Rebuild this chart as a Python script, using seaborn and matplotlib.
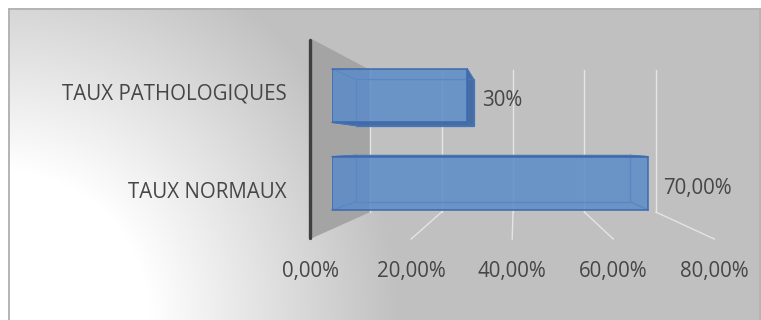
import numpy as np
import matplotlib
matplotlib.use("Agg")
import matplotlib.pyplot as plt
import seaborn as sns
from matplotlib.patches import Polygon

# ---- data ----
categories = ["TAUX PATHOLOGIQUES", "TAUX NORMAUX"]
values = [30, 70]
label_decimals = [0, 2]
x_ticks = [0, 20, 40, 60, 80]

# ---- style ----
plt.rcParams["font.family"] = ["Open Sans", "DejaVu Sans"]
TEXT = "#464646"
FS = 14.8
BAR = "#5b8bc8"
EDGE = "#3d6aae"
SIDE = "#3e68a3"
INNER = "#4676b6"
GRID = "#e4e4e4"
WALL = "#a4a4a4"
AXLINE = "#3f3f3f"

W, H = 761, 320
fig = plt.figure(figsize=(W / 100, H / 100), dpi=100, facecolor="white")

# background layer in top-down pixel coordinates
ax_bg = fig.add_axes([0, 0, 1, 1], zorder=0)
ax_bg.set_xlim(0, W)
ax_bg.set_ylim(H, 0)
ax_bg.axis("off")

# chart area: radial fill from the lower-left corner, white to grey
cx0, cy0 = 8, 8
xs = np.arange(cx0, W) + 0.5
ys = np.arange(cy0, H) + 0.5
X, Y = np.meshgrid(xs, ys)
r = np.hypot(X - 0, Y - 320)
t = np.clip((r - 150) / 250, 0, 1)
g = (255 - t * 63) / 255
ax_bg.imshow(np.dstack([g, g, g]), extent=(cx0, W, H, cy0),
             interpolation="bilinear", aspect="auto", zorder=0)
ax_bg.plot([8.5, 8.5, 759.5, 759.5], [H, 8.5, 8.5, H],
           color="#b4b4b4", lw=1.4, zorder=1, solid_joinstyle="miter")

# bar plane
ax = fig.add_axes([332 / W, (H - 229.2) / H, 361 / W, 179.4 / H], zorder=2)
ax.patch.set_alpha(0)
sns.barplot(x=values, y=categories, orient="h", color=BAR, saturation=1,
            width=0.61, alpha=0.85, edgecolor=EDGE, linewidth=1.3, ax=ax)
ax.set_xlim(0, 80)
ax.set_ylim(1.525, -0.525)
ax.axis("off")

# perspective helpers
VP = np.array([515.0, 147.0])
F_FRONT, F_WALL, F_BAR_BACK = 1.12, 0.792, 0.869


def data_px(x, y):
    dx, dy = ax.transData.transform((x, y))
    return np.array([dx, H - dy])


def axes_px(u, v):
    dx, dy = ax.transAxes.transform((u, v))
    return np.array([dx, H - dy])


def proj(p, f):
    return VP + (np.asarray(p, float) - VP) * f


tl, bl = axes_px(0, 1), axes_px(0, 0)

# side wall
wall = [proj(tl, F_FRONT), proj(tl, F_WALL), proj(bl, F_WALL), proj(bl, F_FRONT)]
ax_bg.add_patch(Polygon(wall, closed=True, facecolor=WALL, edgecolor="none", zorder=2))

# gridlines on back wall and floor, with tick labels on the floor edge
for tv in x_ticks:
    xp = data_px(tv, 0)[0]
    top = np.array([xp, tl[1]])
    bot = np.array([xp, bl[1]])
    bt, bb, fb = proj(top, F_WALL), proj(bot, F_WALL), proj(bot, F_FRONT)
    ax_bg.plot([bt[0], bb[0]], [bt[1], bb[1]], color=GRID, lw=1.0, zorder=3)
    if tv > 0:
        ax_bg.plot([bb[0], fb[0]], [bb[1], fb[1]], color=GRID, lw=1.0, zorder=3)
    ax_bg.text(fb[0], fb[1] + 38, f"{tv:.2f}%".replace(".", ","),
               ha="center", va="baseline", fontsize=FS, color=TEXT, zorder=6)

# front edge of the category axis
ft, fbm = proj(tl, F_FRONT), proj(bl, F_FRONT)
ax_bg.plot([ft[0], fbm[0]], [ft[1] + 2, fbm[1] - 1], color=AXLINE, lw=2.4,
           solid_capstyle="round", zorder=4)

# category labels on the front plane
for i, cat in enumerate(categories):
    p = proj([tl[0], data_px(0, i)[1]], F_FRONT)
    ax_bg.text(p[0] - 23, p[1] + 10.3, cat, ha="right", va="baseline",
               fontsize=FS, color=TEXT, zorder=6)

# depth of each bar: outer side faces and hidden edges seen through the front
for patch in ax.patches:
    bb = patch.get_bbox()
    # corners clockwise from top-left (top-down pixels)
    xl, xr = data_px(bb.x0, 0)[0], data_px(bb.x1, 0)[0]
    yt = min(data_px(0, bb.y0)[1], data_px(0, bb.y1)[1])
    yb = max(data_px(0, bb.y0)[1], data_px(0, bb.y1)[1])
    front = [np.array(p) for p in [(xl, yt), (xr, yt), (xr, yb), (xl, yb)]]
    back = [proj(c, F_BAR_BACK) for c in front]
    # a face shows beside the front only when its back edge lies outside it
    visible = [back[0][1] < yt, back[1][0] > xr, back[2][1] > yb, back[3][0] < xl]
    for k in range(4):
        if not visible[k]:
            continue
        n = (k + 1) % 4
        ax_bg.add_patch(Polygon([front[k], front[n], back[n], back[k]], closed=True,
                                facecolor=SIDE, edgecolor=EDGE, lw=0.6,
                                alpha=0.95, zorder=5))
    ax_bg.add_patch(Polygon(back, closed=True, facecolor="none", edgecolor=INNER,
                            lw=0.9, zorder=5.5))
    for c, b in zip(front, back):
        ax_bg.plot([c[0], b[0]], [c[1], b[1]], color=INNER, lw=0.9, zorder=5.5)

# value labels at the bar ends
for i, (v, d) in enumerate(zip(values, label_decimals)):
    ax.annotate(f"{v:.{d}f}%".replace(".", ","), xy=(v, i), xytext=(15, -10.5),
                textcoords="offset pixels", ha="left", va="baseline",
                fontsize=FS, color=TEXT, annotation_clip=False)

fig.savefig("out.png", dpi=100, facecolor="white")
